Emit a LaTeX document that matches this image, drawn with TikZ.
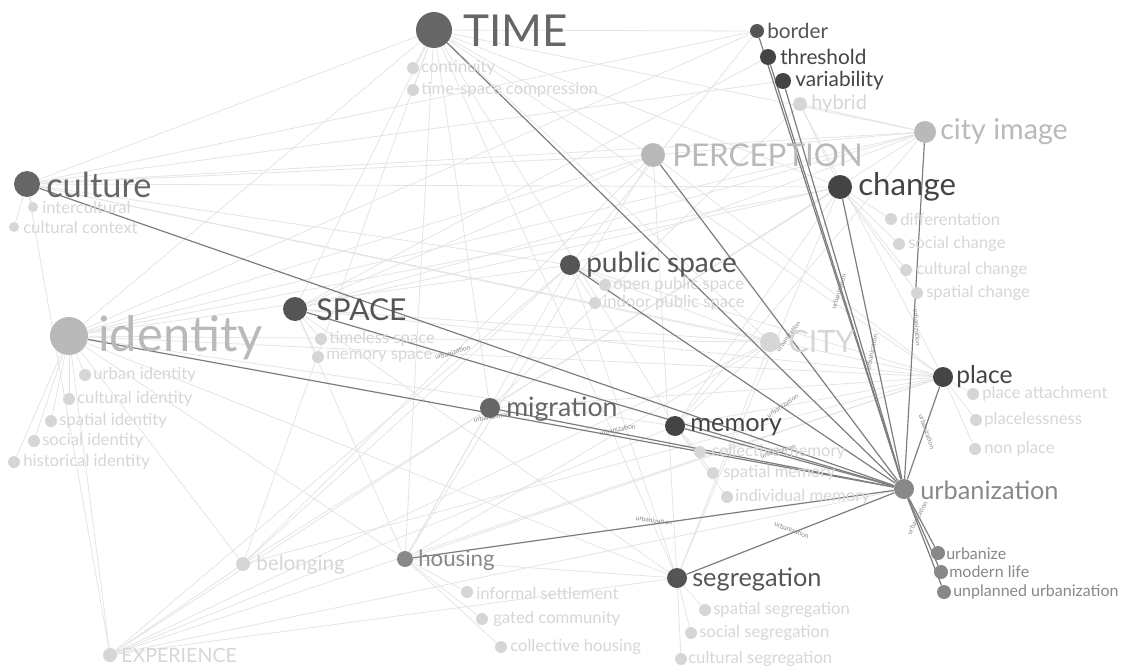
\documentclass[tikz,border=0pt]{standalone}
\usepackage{fontspec}
\setmainfont{Lato}
\usepackage{tikz}
\definecolor{gxx}{RGB}{68,68,68}
\definecolor{gdk}{RGB}{85,85,85}
\definecolor{gmd}{RGB}{102,102,102}
\definecolor{gur}{RGB}{136,136,136}
\definecolor{glt}{RGB}{185,185,185}
\definecolor{gsub}{RGB}{214,214,214}
\definecolor{gbg}{RGB}{228,228,228}
\definecolor{gedge}{RGB}{125,125,125}
\pgfdeclarelayer{links}
\pgfsetlayers{links,main}

\begin{document}
\begin{tikzpicture}[x=0.75pt,y=0.75pt,yscale=-1,xscale=1,
  dot/.style={circle,inner sep=0pt,minimum size=#1},
  sub/.style={circle,inner sep=0pt,minimum size=9pt,fill=gsub},
  lbl/.style={anchor=west,inner sep=0.75pt},
  sublbl/.style={anchor=west,inner sep=0.75pt,text=gsub,font=\fontsize{12.5}{14}\selectfont},
  bgedge/.style={draw=gbg,line width=0.6pt},
  urbedge/.style={draw=gedge,line width=0.9pt},
  elbl/.style={sloped,above,inner sep=0.4pt,text=gur,font=\fontsize{5}{5}\selectfont}]
\useasboundingbox (0,0) rectangle (1131,671);

% TIME
\node[dot=27pt,fill=gmd] (time) at (434,30) {};
\node[lbl,text=gmd,font=\fontsize{33}{36}\selectfont] (time-t) at (462,31) {TIME};
\node[sub] (cont) at (413,68) {};
\node[sublbl] (cont-t) at (420,68) {continuity};
\node[sub] (tsc) at (413,90) {};
\node[sublbl] (tsc-t) at (420,90) {time-space compression};

% border, threshold, variability, hybrid
\node[dot=10.5pt,fill=gdk] (border) at (757,31) {};
\node[lbl,text=gdk,font=\fontsize{15.6}{18}\selectfont] (border-t) at (766,31) {border};
\node[dot=12pt,fill=gxx] (thresh) at (768,57) {};
\node[lbl,text=gxx,font=\fontsize{15.6}{18}\selectfont] (thresh-t) at (779,57) {threshold};
\node[dot=12pt,fill=gxx] (vari) at (783,81) {};
\node[lbl,text=gxx,font=\fontsize{15.6}{18}\selectfont] (vari-t) at (794,81) {variability};
\node[dot=10.5pt,fill=gsub] (hybrid) at (800,104) {};
\node[lbl,text=gsub,font=\fontsize{15}{18}\selectfont] (hybrid-t) at (810,104) {hybrid};

% city image, PERCEPTION
\node[dot=16.5pt,fill=glt] (cityimg) at (925,132) {};
\node[lbl,text=glt,font=\fontsize{21.5}{24}\selectfont] (cityimg-t) at (939,132) {city image};
\node[dot=18pt,fill=glt] (perc) at (653,155) {};
\node[lbl,text=glt,font=\fontsize{23.5}{26}\selectfont] (perc-t) at (671,155) {PERCEPTION};

% change
\node[dot=18pt,fill=gxx] (change) at (840,187) {};
\node[lbl,text=gxx,font=\fontsize{23.4}{26}\selectfont] (change-t) at (857,187) {change};
\node[sub] (diff) at (891,219) {};
\node[sublbl] (diff-t) at (899,219) {differentation};
\node[sub] (socch) at (899,244) {};
\node[sublbl] (socch-t) at (907,244) {social change};
\node[sub] (culch) at (906,270) {};
\node[sublbl] (culch-t) at (915,270) {cultural change};
\node[sub] (spach) at (917,293) {};
\node[sublbl] (spach-t) at (925,293) {spatial change};

% culture
\node[dot=19.5pt,fill=gmd] (culture) at (27,184) {};
\node[lbl,text=gmd,font=\fontsize{25.8}{28}\selectfont] (culture-t) at (45,185) {culture};
\node[sub,minimum size=7.5pt] (intcul) at (33,207) {};
\node[sublbl] (intcul-t) at (41,207) {intercultural};
\node[sub,minimum size=7.5pt] (culctx) at (14,227) {};
\node[sublbl] (culctx-t) at (22,227) {cultural context};

% public space
\node[dot=15pt,fill=gdk] (pubsp) at (570,265) {};
\node[lbl,text=gdk,font=\fontsize{21}{24}\selectfont] (pubsp-t) at (585,265) {public space};
\node[sub] (opsp) at (605,285) {};
\node[sublbl] (opsp-t) at (612,285) {open public space};
\node[sub] (insp) at (595,303) {};
\node[sublbl] (insp-t) at (602,303) {indoor public space};

% SPACE
\node[dot=18pt,fill=gdk] (space) at (295,309) {};
\node[lbl,text=gdk,font=\fontsize{22.6}{25}\selectfont] (space-t) at (315,310) {SPACE};
\node[sub] (tlsp) at (321,339) {};
\node[sublbl] (tlsp-t) at (328,339) {timeless space};
\node[sub] (mesp) at (318,357) {};
\node[sublbl] (mesp-t) at (325,357) {memory space};

% identity
\node[dot=28.5pt,fill=glt] (ident) at (69,336) {};
\node[lbl,text=glt,font=\fontsize{36.6}{40}\selectfont] (ident-t) at (97,338) {identity};
\node[sub] (urbid) at (85,375) {};
\node[sublbl] (urbid-t) at (92,375) {urban identity};
\node[sub] (culid) at (69,399) {};
\node[sublbl] (culid-t) at (76,399) {cultural identity};
\node[sub] (spaid) at (51,421) {};
\node[sublbl] (spaid-t) at (58,421) {spatial identity};
\node[sub] (socid) at (34,441) {};
\node[sublbl] (socid-t) at (41,441) {social identity};
\node[sub] (hisid) at (14,462) {};
\node[sublbl] (hisid-t) at (22,462) {historical identity};

% CITY
\node[dot=15pt,fill=gsub] (city) at (770,342) {};
\node[lbl,text=gsub,font=\fontsize{23}{26}\selectfont] (city-t) at (787,342) {CITY};

% place
\node[dot=15pt,fill=gxx] (place) at (943,377) {};
\node[lbl,text=gxx,font=\fontsize{18.4}{21}\selectfont] (place-t) at (955,377) {place};
\node[sub] (platt) at (973,394) {};
\node[sublbl] (platt-t) at (981,394) {place attachment};
\node[sub] (plless) at (976,420) {};
\node[sublbl] (plless-t) at (983,420) {placelessness};
\node[sub] (nonpl) at (975,449) {};
\node[sublbl] (nonpl-t) at (983,449) {non place};

% migration
\node[dot=15pt,fill=gmd] (migr) at (490,408) {};
\node[lbl,text=gmd,font=\fontsize{20}{23}\selectfont] (migr-t) at (505,409) {migration};

% memory
\node[dot=15pt,fill=gxx] (memory) at (675,426) {};
\node[lbl,text=gxx,font=\fontsize{19}{22}\selectfont] (memory-t) at (689,427) {memory};
\node[sub] (colmem) at (700,452) {};
\node[sublbl] (colmem-t) at (710,452) {collective memory};
\node[sub] (spamem) at (713,473) {};
\node[sublbl] (spamem-t) at (722,473) {spatial memory};
\node[sub] (indmem) at (727,497) {};
\node[sublbl] (indmem-t) at (734,497) {individual memory};

% urbanization
\node[dot=15pt,fill=gur] (urbz) at (904,489) {};
\node[lbl,text=gur,font=\fontsize{19}{22}\selectfont] (urbz-t) at (919,490) {urbanization};
\node[dot=10.5pt,fill=gur] (urbize) at (938,553) {};
\node[lbl,text=gur,font=\fontsize{12}{14}\selectfont] (urbize-t) at (945,554) {urbanize};
\node[dot=10.5pt,fill=gur] (modlife) at (941,572) {};
\node[lbl,text=gur,font=\fontsize{12}{14}\selectfont] (modlife-t) at (948,572) {modern life};
\node[dot=10.5pt,fill=gur] (unplan) at (944,592) {};
\node[lbl,text=gur,font=\fontsize{12}{14}\selectfont] (unplan-t) at (952,592) {unplanned urbanization};

% belonging, housing
\node[dot=10.5pt,fill=gsub] (belong) at (243,564) {};
\node[lbl,text=gsub,font=\fontsize{15.5}{18}\selectfont] (belong-t) at (255,565) {belonging};
\node[dot=12pt,fill=gur] (housing) at (405,559) {};
\node[lbl,text=gur,font=\fontsize{16.7}{19}\selectfont] (housing-t) at (417,560) {housing};
\node[sub] (infset) at (467,592) {};
\node[sublbl] (infset-t) at (475,593) {informal settlement};
\node[sub] (gated) at (482,619) {};
\node[sublbl] (gated-t) at (492,619) {gated community};
\node[sub] (colhou) at (501,647) {};
\node[sublbl] (colhou-t) at (509,647) {collective housing};

% segregation
\node[dot=15pt,fill=gdk] (segr) at (677,578) {};
\node[lbl,text=gdk,font=\fontsize{19}{22}\selectfont] (segr-t) at (691,580) {segregation};
\node[sub] (spaseg) at (705,610) {};
\node[sublbl] (spaseg-t) at (712,610) {spatial segregation};
\node[sub] (socseg) at (691,633) {};
\node[sublbl] (socseg-t) at (698,633) {social segregation};
\node[sub] (culseg) at (681,659) {};
\node[sublbl] (culseg-t) at (687,659) {cultural segregation};

% EXPERIENCE
\node[dot=10.5pt,fill=gsub] (exper) at (110,655) {};
\node[lbl,text=gsub,font=\fontsize{14.7}{17}\selectfont] (exper-t) at (120,655) {EXPERIENCE};

\begin{pgfonlayer}{links}
% faint links
\foreach \a/\b in {time/culture,time/space,time/ident,time/migr,time/housing,time/memory,
  time/cityimg,time/perc,time/change,time/place,time/city,time/segr,time/belong,time/border,
  perc/culture,perc/ident,perc/space,perc/housing,perc/segr,perc/cityimg,perc/place,perc/belong,
  cityimg/culture,cityimg/space,cityimg/ident,cityimg/pubsp,cityimg/hybrid,cityimg/memory,cityimg/migr,
  culture/pubsp,culture/change,culture/city,culture/place,culture/border,culture/exper,
  ident/city,ident/place,ident/change,ident/pubsp,ident/memory,ident/segr,ident/housing,ident/border,
  space/change,space/place,space/city,space/segr,space/housing,space/thresh,
  exper/migr,exper/pubsp,exper/memory,exper/urbz,exper/segr,exper/city,exper/ident,exper/belong,exper/place,
  belong/ident,belong/place,belong/change,belong/pubsp,
  housing/pubsp,housing/city,housing/segr,housing/migr,housing/place,
  pubsp/segr,pubsp/place,pubsp/city,pubsp/border,
  change/memory,change/segr,change/migr,change/hybrid,
  place/migr,place/memory,place/hybrid,city/segr,city/memory,hybrid/migr,vari/culture,
  time/cont,time/tsc,change/diff,change/socch,change/culch,change/spach,
  culture/intcul,culture/culctx,pubsp/opsp,pubsp/insp,space/tlsp,space/mesp,
  ident/urbid,ident/culid,ident/spaid,ident/socid,ident/hisid,
  place/platt,place/plless,place/nonpl,memory/colmem,memory/spamem,memory/indmem,
  housing/infset,housing/gated,housing/colhou,segr/spaseg,segr/socseg,segr/culseg}
  \draw[bgedge] (\a) -- (\b);

% urbanization links
\draw[urbedge] (urbz) -- (time);
\draw[urbedge] (urbz) -- (border);
\draw[urbedge] (urbz) -- node[elbl,pos=0.45] {urbanization} (thresh);
\draw[urbedge] (urbz) -- (vari);
\draw[urbedge] (urbz) -- node[elbl,pos=0.45] {urbanization} (change);
\draw[urbedge] (urbz) -- node[elbl,pos=0.45] {urbanization} (cityimg);
\draw[urbedge] (urbz) -- node[elbl,pos=0.5] {urbanization} (place);
\draw[urbedge] (urbz) -- node[elbl,pos=0.45] {urbanization} (perc);
\draw[urbedge] (urbz) -- node[elbl,pos=0.35] {urbanization} (pubsp);
\draw[urbedge] (urbz) -- (culture);
\draw[urbedge] (urbz) -- node[elbl,pos=0.75] {urbanization} (space);
\draw[urbedge] (urbz) -- node[elbl,pos=0.5,below] {urbanization} (ident);
\draw[urbedge] (urbz) -- node[elbl,pos=0.7] {urbanization} (migr);
\draw[urbedge] (urbz) -- node[elbl,pos=0.55] {urbanization} (memory);
\draw[urbedge] (urbz) -- node[elbl,pos=0.5] {urbanization} (housing);
\draw[urbedge] (urbz) -- node[elbl,pos=0.5] {urbanization} (segr);
\draw[urbedge] (urbz) -- node[elbl,pos=0.45] {urbanization} (urbize);
\draw[urbedge] (urbz) -- (modlife);
\draw[urbedge] (urbz) -- (unplan);
\end{pgfonlayer}

\end{tikzpicture}
\end{document}
